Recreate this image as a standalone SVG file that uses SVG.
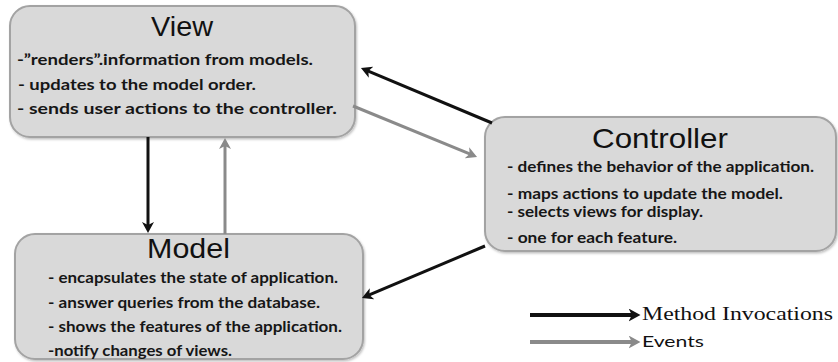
<svg xmlns="http://www.w3.org/2000/svg" width="838" height="362" viewBox="0 0 838 362">
  <defs>
    <marker id="head-black" viewBox="0 0 12 12" refX="5" refY="6" markerWidth="12" markerHeight="12" markerUnits="userSpaceOnUse" orient="auto">
      <path d="M0,0 L11,6 L0,12 L3,6 Z" fill="#111"/>
    </marker>
    <marker id="head-gray" viewBox="0 0 12 12" refX="5" refY="6" markerWidth="12" markerHeight="12" markerUnits="userSpaceOnUse" orient="auto">
      <path d="M0,0 L11,6 L0,12 L3,6 Z" fill="#8a8a8a"/>
    </marker>
    <marker id="legend-black" viewBox="0 0 12 12" refX="5" refY="6" markerWidth="13" markerHeight="13" markerUnits="userSpaceOnUse" orient="auto">
      <path d="M0,0 L11,6 L0,12 L3,6 Z" fill="#111"/>
    </marker>
    <marker id="legend-gray" viewBox="0 0 12 12" refX="5" refY="6" markerWidth="13" markerHeight="13" markerUnits="userSpaceOnUse" orient="auto">
      <path d="M0,0 L11,6 L0,12 L3,6 Z" fill="#8a8a8a"/>
    </marker>
    <filter id="soft" x="-5%" y="-5%" width="110%" height="115%">
      <feDropShadow dx="1" dy="1.5" stdDeviation="1.2" flood-color="#000" flood-opacity="0.25"/>
    </filter>
  </defs>
  <style>
    .box { fill: #d9d9d9; stroke: #a3a3a3; stroke-width: 2; filter: url(#soft); }
    .title { font-family: "Liberation Sans", Arial, sans-serif; font-size: 28px; fill: #111; }
    .item { font-family: Lato, "Open Sans", sans-serif; font-weight: 700; font-size: 16px; fill: #161616; }
    .call { stroke: #111; stroke-width: 3; fill: none; }
    .event { stroke: #8a8a8a; stroke-width: 3; fill: none; }
    .legend-serif { font-family: "Liberation Serif", "Times New Roman", serif; font-size: 18px; fill: #111; }
    .legend-sans { font-family: Lato, "Open Sans", sans-serif; font-size: 16px; fill: #111; }
  </style>

  <rect width="838" height="362" fill="#ffffff"/>

  <g id="view">
    <rect class="box" x="10" y="6" width="345" height="131" rx="20" ry="20"/>
    <text class="title" x="151" y="36" textLength="62" lengthAdjust="spacingAndGlyphs">View</text>
    <text class="item" x="17" y="65" textLength="296" lengthAdjust="spacingAndGlyphs">-”renders”.information from models.</text>
    <text class="item" x="18" y="90" textLength="238" lengthAdjust="spacingAndGlyphs">- updates to the model order.</text>
    <text class="item" x="17" y="114" font-size="17" textLength="320" lengthAdjust="spacingAndGlyphs">- sends user actions to the controller.</text>
  </g>

  <g id="controller">
    <rect class="box" x="485" y="117" width="351" height="134" rx="20" ry="20"/>
    <text class="title" x="592" y="148" textLength="136" lengthAdjust="spacingAndGlyphs">Controller</text>
    <text class="item" x="507" y="172" textLength="307" lengthAdjust="spacingAndGlyphs">- defines the behavior of the application.</text>
    <text class="item" x="507" y="199" textLength="276" lengthAdjust="spacingAndGlyphs">- maps actions to update the model.</text>
    <text class="item" x="507" y="217" textLength="196" lengthAdjust="spacingAndGlyphs">- selects views for display.</text>
    <text class="item" x="507" y="243" textLength="170" lengthAdjust="spacingAndGlyphs">- one for each feature.</text>
  </g>

  <g id="model">
    <rect class="box" x="15" y="234" width="348" height="125" rx="20" ry="20"/>
    <text class="title" x="147" y="258" textLength="83" lengthAdjust="spacingAndGlyphs">Model</text>
    <text class="item" x="48" y="283" textLength="290" lengthAdjust="spacingAndGlyphs">- encapsulates the state of application.</text>
    <text class="item" x="48" y="308" textLength="272" lengthAdjust="spacingAndGlyphs">- answer queries from the database.</text>
    <text class="item" x="48" y="332" textLength="294" lengthAdjust="spacingAndGlyphs">- shows the features of the application.</text>
    <text class="item" x="48" y="356" textLength="184" lengthAdjust="spacingAndGlyphs">-notify changes of views.</text>
  </g>

  <g id="connectors">
    <line class="call" x1="492" y1="123" x2="366.5" y2="70.3" marker-end="url(#head-black)"/>
    <line class="event" x1="353" y1="106" x2="471.5" y2="154.7" marker-end="url(#head-gray)"/>
    <line class="call" x1="148" y1="137" x2="148" y2="227" marker-end="url(#head-black)"/>
    <line class="event" x1="225" y1="234" x2="225" y2="144" marker-end="url(#head-gray)"/>
    <line class="call" x1="485" y1="246" x2="367.5" y2="295.7" marker-end="url(#head-black)"/>
  </g>

  <g id="legend">
    <line x1="530" y1="315" x2="634" y2="315" stroke="#111" stroke-width="4" marker-end="url(#legend-black)"/>
    <text class="legend-serif" x="642" y="320" textLength="191" lengthAdjust="spacingAndGlyphs">Method Invocations</text>
    <line x1="530" y1="342" x2="634" y2="342" stroke="#8a8a8a" stroke-width="4" marker-end="url(#legend-gray)"/>
    <text class="legend-sans" x="642" y="347" textLength="62" lengthAdjust="spacingAndGlyphs">Events</text>
  </g>
</svg>
